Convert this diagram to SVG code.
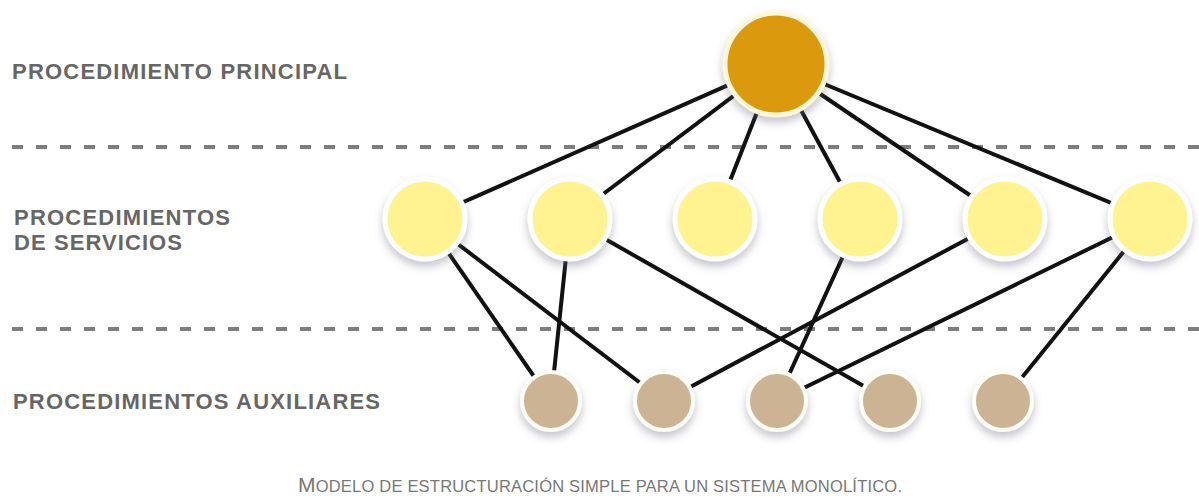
<svg xmlns="http://www.w3.org/2000/svg" width="1199" height="498" viewBox="0 0 1199 498">
<defs>
<filter id="sh" x="-30%" y="-30%" width="160%" height="170%">
<feDropShadow dx="0" dy="5" stdDeviation="4" flood-color="#6a6a80" flood-opacity="0.4"/>
</filter>
<style>
.lbl{font-family:"Liberation Sans",Arial,sans-serif;font-weight:bold;font-size:22px;fill:#666666}
.cap{font-family:"Liberation Sans",Arial,sans-serif;font-size:16.5px;fill:#777777}
.dash{stroke:#7d7d7d;stroke-width:4;stroke-dasharray:11 13;fill:none}
.edge{stroke:#111111;stroke-width:4;fill:none}
.main{fill:#DB9A0C;stroke:#FFF6DC;stroke-width:5;filter:url(#sh)}
.svc{fill:#FFF291;stroke:#FFFFFF;stroke-width:5;filter:url(#sh)}
.aux{fill:#CBB393;stroke:#FFFDF6;stroke-width:4;filter:url(#sh)}
</style>
</defs>
<rect width="1199" height="498" fill="#FFFFFF"/>
<g id="separators">
<line class="dash" x1="12" y1="147" x2="1199" y2="147"/>
<line class="dash" x1="12" y1="329" x2="1199" y2="329"/>
</g>
<g id="labels">
<text class="lbl" x="12" y="79" textLength="335" lengthAdjust="spacing">PROCEDIMIENTO PRINCIPAL</text>
<text class="lbl" x="14" y="225" textLength="216" lengthAdjust="spacing">PROCEDIMIENTOS</text>
<text class="lbl" x="14" y="250" textLength="168" lengthAdjust="spacing">DE SERVICIOS</text>
<text class="lbl" x="13" y="409" textLength="367" lengthAdjust="spacing">PROCEDIMIENTOS AUXILIARES</text>
</g>
<g id="connectors">
<line class="edge" x1="776" y1="64" x2="425" y2="219"/>
<line class="edge" x1="776" y1="64" x2="570" y2="219"/>
<line class="edge" x1="776" y1="64" x2="715" y2="219"/>
<line class="edge" x1="776" y1="64" x2="860" y2="219"/>
<line class="edge" x1="776" y1="64" x2="1005" y2="219"/>
<line class="edge" x1="776" y1="64" x2="1150" y2="219"/>
<line class="edge" x1="425" y1="219" x2="551" y2="401"/>
<line class="edge" x1="425" y1="219" x2="664" y2="401"/>
<line class="edge" x1="570" y1="219" x2="551" y2="401"/>
<line class="edge" x1="570" y1="219" x2="890" y2="401"/>
<line class="edge" x1="860" y1="219" x2="777" y2="401"/>
<line class="edge" x1="1005" y1="219" x2="664" y2="401"/>
<line class="edge" x1="1150" y1="219" x2="777" y2="401"/>
<line class="edge" x1="1150" y1="219" x2="1003" y2="401"/>
</g>
<g id="principal"><circle class="main" cx="776" cy="64" r="51"/></g>
<g id="servicio1"><circle class="svc" cx="425" cy="219" r="40"/></g>
<g id="servicio2"><circle class="svc" cx="570" cy="219" r="40"/></g>
<g id="servicio3"><circle class="svc" cx="715" cy="219" r="40"/></g>
<g id="servicio4"><circle class="svc" cx="860" cy="219" r="40"/></g>
<g id="servicio5"><circle class="svc" cx="1005" cy="219" r="40"/></g>
<g id="servicio6"><circle class="svc" cx="1150" cy="219" r="40"/></g>
<g id="auxiliar1"><circle class="aux" cx="551" cy="401" r="29"/></g>
<g id="auxiliar2"><circle class="aux" cx="664" cy="401" r="29"/></g>
<g id="auxiliar3"><circle class="aux" cx="777" cy="401" r="29"/></g>
<g id="auxiliar4"><circle class="aux" cx="890" cy="401" r="29"/></g>
<g id="auxiliar5"><circle class="aux" cx="1003" cy="401" r="29"/></g>
<g id="caption">
<text class="cap" x="298" y="492" textLength="604" lengthAdjust="spacing"><tspan font-size="21">M</tspan>ODELO DE ESTRUCTURACIÓN SIMPLE PARA UN SISTEMA MONOLÍTICO.</text>
</g>
</svg>
